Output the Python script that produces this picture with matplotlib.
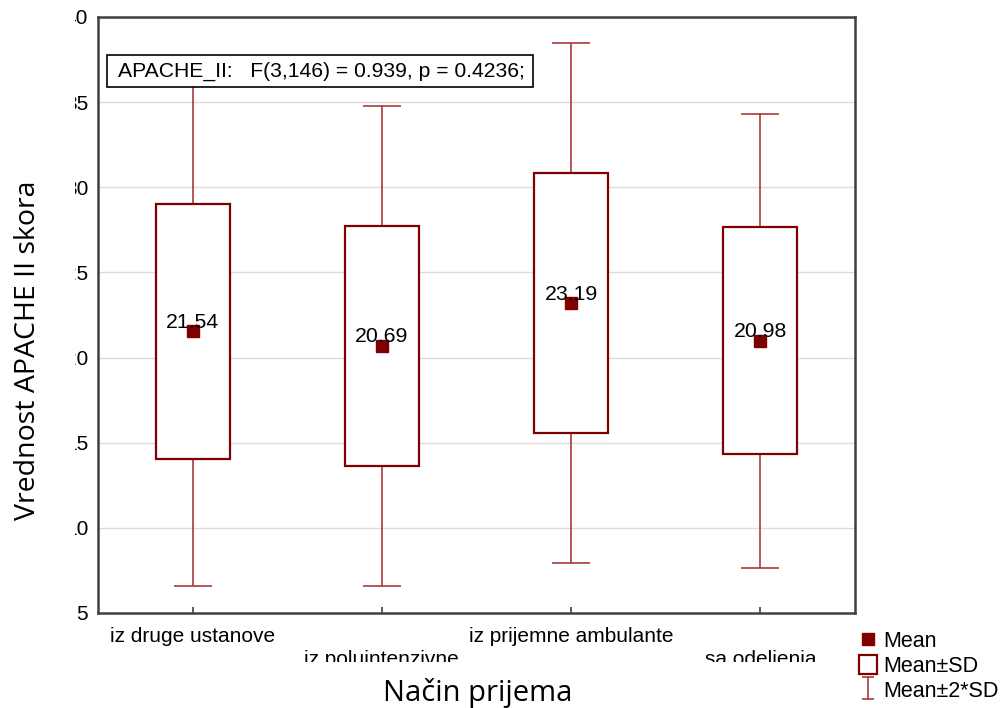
import matplotlib
matplotlib.use("Agg")
import matplotlib.pyplot as plt
from matplotlib.path import Path
from matplotlib.lines import Line2D
from matplotlib.patches import Patch, Rectangle
from matplotlib.transforms import Bbox, TransformedBbox

# Admission routes and APACHE II score statistics
categories = ["iz druge ustanove", "iz poluintenzivne", "iz prijemne ambulante", "sa odeljenja"]
means = [21.54, 20.69, 23.19, 20.98]
sds = [7.47, 7.05, 7.63, 6.66]
y_ticks = [5, 10, 15, 20, 25, 30, 35, 40]
stat_text = "APACHE_II:   F(3,146) = 0.939, p = 0.4236;"
x_label = "Način prijema"
y_label = "Vrednost APACHE II skora"
legend_labels = ["Mean", "Mean±SD", "Mean±2*SD"]

BOX_C = "#7f0000"
WHISK_C = "#a83a3a"
FRAME_C = "#404040"
BASE_FONT = "Liberation Sans"
LABEL_FONT = "Open Sans"

plt.rcParams["font.family"] = [BASE_FONT, "DejaVu Sans"]

fig = plt.figure(figsize=(10, 7.08), dpi=100)
ax = fig.add_axes([0.098, 1 - 613 / 708, 0.757, (613 - 17) / 708])

xs = list(range(1, len(categories) + 1))
box_w = 0.39
cap_w = 0.2

ax.set_xlim(0.5, len(categories) + 0.5)
ax.set_ylim(5, 40)
ax.set_yticks(y_ticks)
ax.set_yticklabels([str(v) for v in y_ticks])
ax.yaxis.grid(True, color="#dcdcdc", lw=1.0, zorder=0)
ax.set_axisbelow(True)

for x, m, s in zip(xs, means, sds):
    lo2, hi2 = m - 2 * s, m + 2 * s
    ax.vlines(x, m + s, hi2, color=WHISK_C, lw=1.2, zorder=2)
    ax.vlines(x, lo2, m - s, color=WHISK_C, lw=1.2, zorder=2)
    ax.hlines([lo2, hi2], x - cap_w / 2, x + cap_w / 2, color=WHISK_C, lw=1.2, zorder=2)
    ax.bar(x, 2 * s, bottom=m - s, width=box_w, facecolor="white",
           edgecolor=BOX_C, lw=1.6, zorder=3)
    ax.plot(x, m, marker="s", ms=9, color=BOX_C, ls="none", zorder=5)
    ax.annotate(f"{m:.2f}", (x, m), xytext=(0, 2.5), textcoords="offset points",
                ha="center", va="baseline", fontsize=15.3, color="black", zorder=6)

# statistics caption in a white framed box
ax.add_patch(Rectangle((0.0119, 0.8826), 0.5627, 0.0536, transform=ax.transAxes,
                       facecolor="white", edgecolor="black", lw=1.2, zorder=9))
ax.text(0.0264, 0.9094, stat_text, transform=ax.transAxes, ha="left", va="center",
        fontsize=15.2, zorder=10)

for sp in ax.spines.values():
    sp.set_color(FRAME_C)
    sp.set_linewidth(1.8)

ax.tick_params(axis="y", direction="in", length=0, pad=7, labelsize=15)
ax.tick_params(axis="x", direction="in", length=4, width=1.2, color=FRAME_C, pad=10, labelsize=15)

ax.set_xticks(xs)
ax.set_xticklabels([c if i % 2 == 0 else "\n" + c for i, c in enumerate(categories)])
for lab in ax.get_xticklabels():
    lab.set_linespacing(1.25)

# tick labels cut at the figure's export margins
ylab_clip = TransformedBbox(Bbox([[0.0752, 0.0], [1.0, 1.0]]), fig.transFigure)
xlab_clip = TransformedBbox(Bbox([[0.0, 46 / 708], [1.0, 1.0]]), fig.transFigure)
fig.canvas.draw()
for lab in ax.get_yticklabels():
    lab.set_clip_on(True)
    lab.set_clip_box(ylab_clip)
for lab in ax.get_xticklabels():
    lab.set_clip_on(True)
    lab.set_clip_box(xlab_clip)

fig.text(0.478, 0.010, x_label, ha="center", va="baseline", fontsize=21, family=LABEL_FONT)
fig.text(0.028, 0.506, y_label, ha="center", va="center", rotation=90, fontsize=20.5,
         family=LABEL_FONT)

whisker_marker = Path([(-0.5, -1), (0.5, -1), (0, -1), (0, 1), (-0.5, 1), (0.5, 1)],
                      [Path.MOVETO, Path.LINETO, Path.MOVETO, Path.LINETO, Path.MOVETO, Path.LINETO])
handles = [
    Line2D([], [], marker="s", ms=9, color=BOX_C, ls="none"),
    Patch(facecolor="white", edgecolor=BOX_C, lw=1.6),
    Line2D([], [], marker=whisker_marker, ms=16, color=WHISK_C, mfc="none", mew=1.2, ls="none"),
]
fig.legend(handles, legend_labels, loc="lower left", bbox_to_anchor=(0.850, -0.003),
           frameon=False, fontsize=15.5, handlelength=0.85, handleheight=1.0,
           handletextpad=0.3, labelspacing=0.12, borderaxespad=0.0)

fig.savefig("out.png", dpi=100)
